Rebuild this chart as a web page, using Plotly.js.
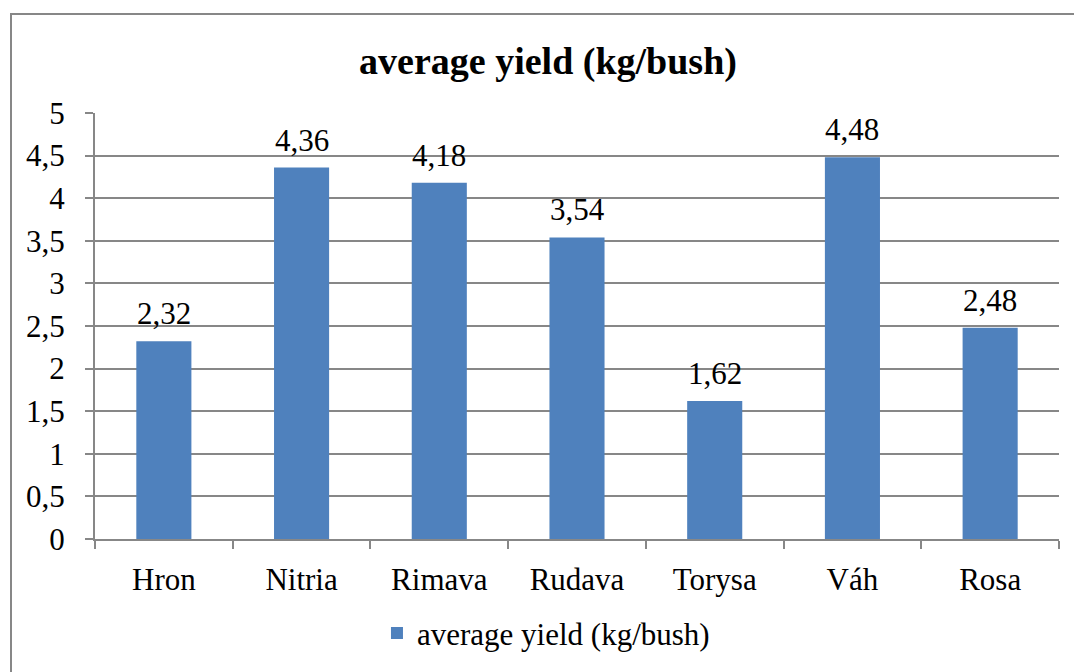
<!DOCTYPE html>
<html>
<head>
<meta charset="utf-8">
<script src="https://cdn.plot.ly/plotly-3.0.1.min.js"></script>
<style>
  html, body { margin: 0; padding: 0; background: #fff; }
  #wrap { position: relative; width: 1074px; height: 672px; overflow: hidden; }
  #chart { width: 1074px; height: 672px; }
  #frame { position: absolute; left: 10px; top: 13px; width: 1100px; height: 700px;
           border-left: 2px solid #878787; border-top: 2px solid #878787; pointer-events: none; }
</style>
</head>
<body>
<div id="wrap">
  <div id="chart"></div>
  <div id="frame"></div>
</div>
<script>
const categories = ["Hron", "Nitria", "Rimava", "Rudava", "Torysa", "Váh", "Rosa"];
const yieldValues = [2.32, 4.36, 4.18, 3.54, 1.62, 4.48, 2.48];
const seriesName = "average yield (kg/bush)";
const chartTitle = "average yield (kg/bush)";

const FONT = "Liberation Serif, Times New Roman, serif";
const labels = yieldValues.map(v => v.toFixed(2).replace('.', ','));

const trace = {
  type: 'bar',
  x: categories,
  y: yieldValues,
  name: seriesName,
  marker: { color: '#4F81BD' },
  showlegend: true,
  hoverinfo: 'none'
};

const annotations = categories.map((c, i) => ({
  x: c, y: yieldValues[i], xref: 'x', yref: 'y',
  text: labels[i], showarrow: false, yanchor: 'bottom', yshift: 8,
  font: { family: FONT, size: 31, color: '#000' }
}));

const layout = {
  width: 1074, height: 672,
  margin: { l: 95, r: 15, t: 113, b: 130 },
  paper_bgcolor: '#fff', plot_bgcolor: '#fff',
  separators: ',.',
  bargap: 0.6,
  title: { text: '<b>' + chartTitle + '</b>', font: { family: FONT, size: 38, color: '#000' },
           x: 548/1074, xanchor: 'center', y: 1 - 61/672, yanchor: 'middle', xref: 'container', yref: 'container' },
  xaxis: {
    type: 'category',
    showline: true, linecolor: '#878787', linewidth: 2,
    ticks: 'outside', tickson: 'boundaries', ticklen: 8, tickcolor: '#878787', tickwidth: 2,
    ticklabelstandoff: 12,
    showgrid: false,
    tickfont: { family: FONT, size: 31, color: '#000' },
    fixedrange: true
  },
  yaxis: {
    range: [0, 5], dtick: 0.5, tick0: 0,
    showline: true, linecolor: '#878787', linewidth: 2,
    ticks: 'outside', ticklen: 8, tickcolor: '#878787', tickwidth: 2,
    ticklabelstandoff: 14,
    showgrid: true, gridcolor: '#878787', gridwidth: 2,
    zeroline: false,
    tickfont: { family: FONT, size: 31, color: '#000' },
    fixedrange: true
  },
  legend: {
    orientation: 'h', x: 0.2925, xanchor: 'left', y: -0.2214, yanchor: 'middle',
    font: { family: FONT, size: 31, color: '#000' },
    bgcolor: 'rgba(0,0,0,0)'
  },
  annotations: annotations
};

Plotly.newPlot('chart', [trace], layout, { displayModeBar: false, staticPlot: true });
</script>
</body>
</html>
